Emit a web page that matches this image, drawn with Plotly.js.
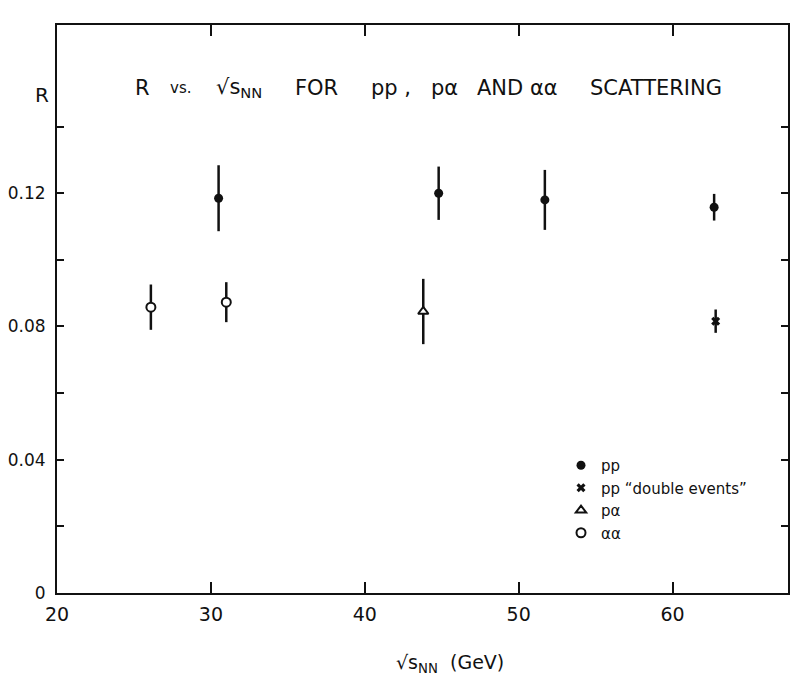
<!DOCTYPE html>
<html>
<head>
<meta charset="utf-8">
<script src="https://cdn.plot.ly/plotly-3.0.1.min.js"></script>
<style>
  body { margin: 0; background: #fff; }
  #chart { width: 806px; height: 698px; }
</style>
</head>
<body>
<div id="chart"></div>
<script>
// values
var ppX = [30.5, 44.8, 51.7, 62.7];
var ppY = [0.1185, 0.1200, 0.1180, 0.1158];
var ppErr = [0.0099, 0.0080, 0.0090, 0.0040];

var dblX = [62.8];
var dblY = [0.0816];
var dblErr = [0.0035];

var paX = [43.8];
var paY = [0.0845];
var paErr = [0.0098];

var aaX = [26.1, 31.0];
var aaY = [0.0858, 0.0873];
var aaErr = [0.0068, 0.0060];

var xTicks = [20, 30, 40, 50, 60];
var yTicks = [0, 0.04, 0.08, 0.12];
var yTickText = ['0', '0.04', '0.08', '0.12'];
var yMinor = [0.02, 0.06, 0.10, 0.14];

var legendNames = ['pp', 'pp \u201Cdouble events\u201D', 'p\u03B1', '\u03B1\u03B1'];

// plot box in pixels (for placing text)
var L = 57, R = 788, T = 25, B = 593;
function px(x) { return (x - L) / (R - L); }
function py(y) { return (B - y) / (B - T); }

var INK = '#111';
var FONT = 'DejaVu Sans, sans-serif';

function errBar(arr) {
  return { type: 'data', array: arr, visible: true, thickness: 2.5, width: 0, color: INK };
}

var data = [
  {
    x: ppX, y: ppY, name: legendNames[0], type: 'scatter', mode: 'markers',
    marker: { symbol: 'circle', size: 9, color: INK },
    error_y: errBar(ppErr)
  },
  {
    x: dblX, y: dblY, name: legendNames[1], type: 'scatter', mode: 'markers',
    marker: { symbol: 'x', size: 8, color: INK },
    error_y: errBar(dblErr)
  },
  {
    x: paX, y: paY, name: legendNames[2], type: 'scatter', mode: 'markers',
    marker: { symbol: 'triangle-up', size: 9, color: '#fff', line: { color: INK, width: 2 } },
    error_y: errBar(paErr)
  },
  {
    x: aaX, y: aaY, name: legendNames[3], type: 'scatter', mode: 'markers',
    marker: { symbol: 'circle', size: 9, color: '#fff', line: { color: INK, width: 2 } },
    error_y: errBar(aaErr)
  }
];

// title pieces, left edge in pixels
var titleBits = [
  ['R', 133, 21],
  ['vs.', 168, 15],
  ['\u221As<sub>NN</sub>', 214, 21],
  ['FOR', 293, 21],
  ['pp ,', 369, 21],
  ['p\u03B1', 429, 21],
  ['AND', 475, 21],
  ['\u03B1\u03B1', 528, 21],
  ['SCATTERING', 588, 21]
];

var annotations = titleBits.map(function (b) {
  return {
    text: b[0], xref: 'paper', yref: 'paper', x: px(b[1]), y: py(88),
    xanchor: 'left', yanchor: 'middle', showarrow: false,
    font: { family: FONT, size: b[2], color: INK }
  };
});

// y label "R" and x axis title
annotations.push({
  text: 'R', xref: 'paper', yref: 'paper', x: px(42), y: py(95),
  xanchor: 'center', yanchor: 'middle', showarrow: false,
  font: { family: FONT, size: 20, color: INK }
});
annotations.push({
  text: '\u221As<sub>NN</sub>  (GeV)', xref: 'paper', yref: 'paper', x: px(450), y: py(663),
  xanchor: 'center', yanchor: 'middle', showarrow: false,
  font: { family: FONT, size: 19, color: INK }
});

var layout = {
  width: 806, height: 698,
  margin: { l: L, r: 806 - R, t: T, b: 698 - B },
  paper_bgcolor: '#fff', plot_bgcolor: '#fff',
  showlegend: true,
  legend: {
    x: px(561), y: py(449), xanchor: 'left', yanchor: 'top',
    bgcolor: 'rgba(0,0,0,0)', tracegroupgap: 0,
    font: { family: FONT, size: 15, color: INK }
  },
  xaxis: {
    range: [20, 67.5], tickvals: xTicks, ticks: 'inside', ticklen: 11, tickwidth: 2,
    tickcolor: INK, showline: true, linecolor: INK, linewidth: 2, mirror: 'ticks',
    showgrid: false, zeroline: false, ticklabelstandoff: 3,
    tickfont: { family: FONT, size: 19, color: INK }
  },
  yaxis: {
    range: [0, 0.1705], tickvals: yTicks, ticktext: yTickText, ticks: 'inside', ticklen: 7,
    tickwidth: 2, tickcolor: INK, showline: true, linecolor: INK, linewidth: 2, mirror: 'ticks',
    showgrid: false, zeroline: false, ticklabelstandoff: 6,
    minor: { tickvals: yMinor, ticks: 'inside', ticklen: 7, tickwidth: 2, tickcolor: INK, showgrid: false },
    tickfont: { family: FONT, size: 17, color: INK }
  },
  annotations: annotations
};

Plotly.newPlot('chart', data, layout, { staticPlot: true });
</script>
</body>
</html>
